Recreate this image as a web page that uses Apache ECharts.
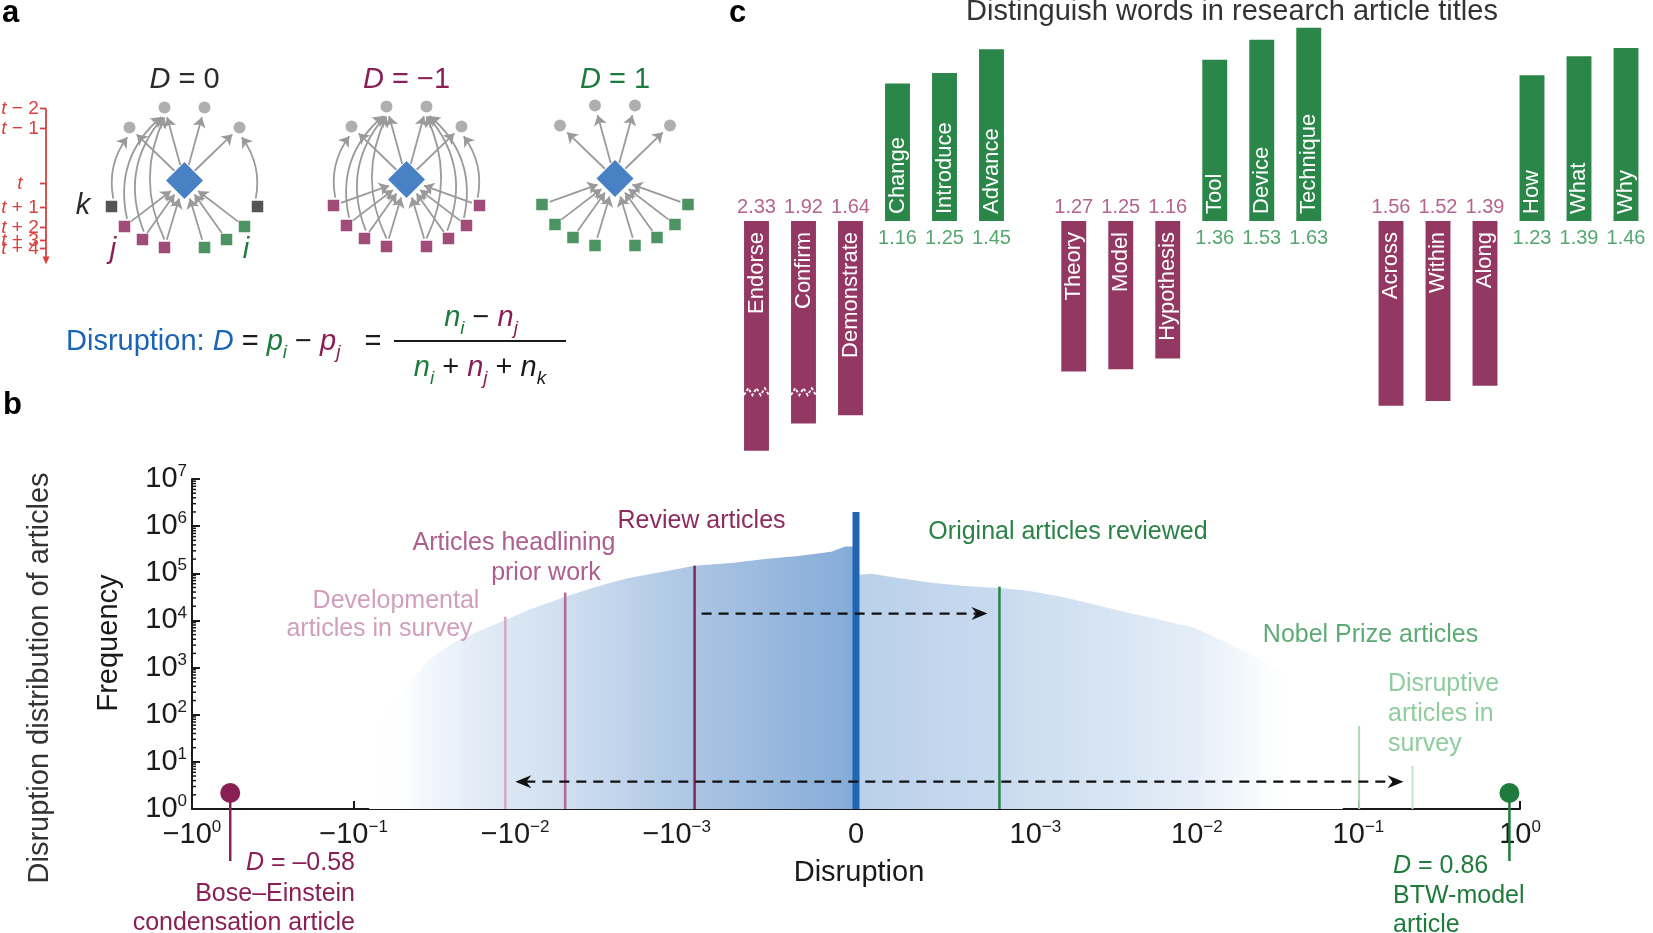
<!DOCTYPE html>
<html>
<head>
<meta charset="utf-8">
<title>Disruption</title>
<script src="https://cdn.jsdelivr.net/npm/echarts@6/dist/echarts.min.js"></script>
<style>
html,body{margin:0;padding:0;background:#ffffff;}
#chart{width:1653px;height:933px;}
</style>
</head>
<body>
<div id="chart"></div>
<script>
// ================= DATA =================
// Panel a: citation-network schematics (offsets from the focal paper, y up)
const citedNodes = [[-20, 73], [20, 73], [-55, 53], [55, 53]];
const citingNodes = [[-73, -26], [-60, -46], [-42, -59], [-20, -67], [20, -67], [42, -59], [60, -46], [73, -26]];
const citedTarget = [2, 0, 0, 0, 1, 1, 1, 3];
const diagramD = ['0', '−1', '1'];
const diagramTypes = [
  ['k', 'j', 'j', 'j', 'i', 'i', 'i', 'k'],
  ['j', 'j', 'j', 'j', 'j', 'j', 'j', 'j'],
  ['i', 'i', 'i', 'i', 'i', 'i', 'i', 'i']
];
const timeLabels = ['t − 2', 't − 1', 't', 't + 1', 't + 2', 't + 3', 't + 4'];
const timeLevels = [72, 52, -3, -27, -47, -60, -68];

// Panel b: disruption histogram (envelope)
const histNegD = [-0.08, -0.06, -0.0438, -0.0344, -0.027, -0.0215, -0.0169, -0.0115, -0.00828, -0.00489, -0.00318, -0.00199, -0.00124, -0.000902, -0.000695, -0.000506, -0.000322, -0.000138, -0.00006, -0.00001, 0];
const histNegFreq = [40, 160, 550, 1450, 2600, 4100, 5800, 10200, 16600, 31600, 51000, 79000, 107000, 145000, 166000, 200000, 234000, 288000, 372000, 372000, 372000];
const histPosD = [0, 0.00003, 0.000085, 0.000235, 0.00042, 0.000609, 0.0008, 0.00096, 0.00145, 0.00235, 0.00376, 0.00601, 0.00977, 0.0156, 0.025, 0.0406, 0.06, 0.08];
const histPosFreq = [93000, 93000, 98000, 79400, 63100, 53700, 49000, 42700, 31600, 21400, 14500, 10200, 6900, 3300, 1450, 550, 160, 40];
const zeroSpikeFreq = 2.0e6;
const markerNames = ['Developmental articles in survey', 'Articles headlining prior work', 'Review articles', 'Original articles reviewed', 'Nobel Prize articles', 'Disruptive articles in survey'];
const markerD = [-0.0115, -0.0049, -0.0009, 0.0008, 0.101, 0.216];
const markerTopFreq = [12000, 39000, 145000, 52000, 58, 8.2];
const extremeD = [-0.58, 0.86];
const extremeNames = ['Bose–Einstein condensation article', 'BTW-model article'];
const xTickD = [-1, -0.1, -0.01, -0.001, 0, 0.001, 0.01, 0.1, 1];
const yTickExp = [0, 1, 2, 3, 4, 5, 6, 7];
const shiftArrowFreq = [14000, 3.8];

// Panel c: distinguishing title words
const magentaWords = [['Endorse', 'Confirm', 'Demonstrate'], ['Theory', 'Model', 'Hypothesis'], ['Across', 'Within', 'Along']];
const magentaValues = [[2.33, 1.92, 1.64], [1.27, 1.25, 1.16], [1.56, 1.52, 1.39]];
const greenWords = [['Change', 'Introduce', 'Advance'], ['Tool', 'Device', 'Technique'], ['How', 'What', 'Why']];
const greenValues = [[1.16, 1.25, 1.45], [1.36, 1.53, 1.63], [1.23, 1.39, 1.46]];

// ================= STYLE / LAYOUT =================
const FONT = '"Liberation Sans", Arial, Helvetica, sans-serif';
const BLUE = '#1b63b5';
const MAG = '#8a1f56';
const GRN = '#1f7b3c';
const INK = '#1a1a1a';
const RED = '#d8413f';
const NODE_GRAY = '#9b9b9b';
const EDGE = '#9a9a9a';
const BAR_MAG = '#933862';
const BAR_GRN = '#2b8649';
const LBL_MAG = '#b4648f';
const LBL_GRN = '#55a770';
const markerColors = ['#d7a7c3', '#b5679a', '#8d2459', '#2a8247', '#a9d8b3', '#c0e5c8'];
const markerTextColors = ['#d19ebd', '#ad5f8f', '#8e2a5e', '#2a8247', '#5dab74', '#8fcd9f'];

const LIN = 1.11, NDEC = 3;
function toAxis(D) {
  const a = Math.abs(D);
  if (a <= 1e-3) return D / 1e-3 * LIN;
  return Math.sign(D) * (LIN + NDEC + Math.log10(a));
}
const U_MAX = toAxis(1);
const xTickU = xTickD.map(toAxis);

const diagCenters = [[184.5, 180.5], [406.5, 179.5], [615, 178.5]];
const GROUP_STRIDE = 6.75;
const BAR_W = 0.53;
const BREAK_MIN = 1.8, BREAK_AT = 1.44, BREAK_SCALE = 0.56;

const chart = echarts.init(document.getElementById('chart'), null, { renderer: 'canvas', width: 1653, height: 933 });

function supLabel(base, exp) {
  return '{b|' + base + '}{s|' + exp + '}';
}
function fmtExp(e) { return e < 0 ? '−' + (-e) : String(e); }
function xLabel(u) {
  let k = 0, best = 1e9;
  xTickU.forEach((t, i) => { if (Math.abs(t - u) < best) { best = Math.abs(t - u); k = i; } });
  const D = xTickD[k];
  if (D === 0) return '{b|0}';
  const e = Math.round(Math.log10(Math.abs(D)));
  return supLabel((D < 0 ? '−' : '') + '10', fmtExp(e));
}
const tickRich = {
  b: { fontSize: 29, fontFamily: FONT, color: INK, lineHeight: 32 },
  s: { fontSize: 17, fontFamily: FONT, color: INK, lineHeight: 17, verticalAlign: 'top' }
};

// ---------- panel a helpers ----------
function diamondEdge(dx, dy) { const L = Math.hypot(dx, dy); return 18.5 * L / (Math.abs(dx) + Math.abs(dy)); }
function trim(a, b, da, db) {
  const dx = b[0] - a[0], dy = b[1] - a[1], L = Math.hypot(dx, dy);
  return [[a[0] + dx / L * da, a[1] + dy / L * da], [b[0] - dx / L * db, b[1] - dy / L * db]];
}
const curveByIndex = [0.22, 0.3, 0.3, 0.24, 0.24, 0.3, 0.3, 0.22];
function buildEdges(types) {
  const out = [];
  citedNodes.forEach(c => {
    const r = diamondEdge(c[0], c[1]);
    out.push({ coords: trim([0, 0], c, r + 1, 10), lineStyle: { curveness: 0 } });
  });
  citingNodes.forEach((n, idx) => {
    const t = types[idx];
    if (t !== 'k') {
      const r = diamondEdge(n[0], n[1]);
      out.push({ coords: trim(n, [0, 0], 8, r + 4), lineStyle: { curveness: 0 } });
    }
    if (t !== 'i') {
      const c = citedNodes[citedTarget[idx]];
      const sgn = n[0] < 0 ? 1 : -1;
      out.push({ coords: trim(n, c, 8, 10), lineStyle: { curveness: sgn * curveByIndex[idx] } });
    }
  });
  return out;
}
const typeColor = { k: '#2b2b2b', j: MAG, i: GRN };

// ---------- grids & axes ----------
const grids = [
  { left: 192, top: 479, width: 1328, height: 330 },
  { left: 733, top: 7.7, width: 916.5, height: 450.3 }
];
diagCenters.forEach(c => grids.push({ left: c[0] - 80, top: c[1] - 80, width: 160, height: 160 }));

const xAxes = [
  {
    type: 'value', gridIndex: 0, min: -U_MAX, max: U_MAX,
    axisLine: { onZero: false, lineStyle: { color: INK, width: 2 } },
    axisTick: { inside: true, length: 8, lineStyle: { color: INK, width: 2 }, customValues: xTickU },
    axisLabel: { customValues: xTickU, formatter: xLabel, rich: tickRich, margin: 10, showMinLabel: true, showMaxLabel: true },
    splitLine: { show: false }
  },
  { type: 'value', gridIndex: 1, min: -0.5, max: 19, show: false }
];
const yTickVals = yTickExp.map(e => Math.pow(10, e));
const yAxes = [
  {
    type: 'log', logBase: 10, gridIndex: 0, min: 1, max: 1e7,
    axisLine: { onZero: false, lineStyle: { color: INK, width: 2 } },
    axisTick: { inside: true, length: 8, lineStyle: { color: INK, width: 2 }, customValues: yTickVals },
    axisLabel: {
      customValues: yTickVals, margin: 5, rich: tickRich, showMinLabel: true, showMaxLabel: true,
      formatter: v => supLabel('10', fmtExp(Math.round(Math.log10(v))))
    },
    splitLine: { show: false }
  },
  { type: 'value', gridIndex: 1, min: -2, max: 1.8, show: false }
];
for (let k = 0; k < 3; k++) {
  xAxes.push({ type: 'value', gridIndex: k + 2, min: -80, max: 80, show: false });
  yAxes.push({ type: 'value', gridIndex: k + 2, min: -80, max: 80, show: false });
}

// ---------- series ----------
const series = [];
function stopsFor(list, u0, u1) {
  return list.map(([u, c]) => ({ offset: Math.min(1, Math.max(0, (u - u0) / (u1 - u0))), color: c }));
}
const negU0 = toAxis(histNegD[0]);
const posU1 = toAxis(histPosD[histPosD.length - 1]);
series.push({
  type: 'line', xAxisIndex: 0, yAxisIndex: 0, silent: true, z: 1,
  data: histNegD.map((d, i) => [toAxis(d), histNegFreq[i]]),
  symbol: 'none', showSymbol: false, lineStyle: { width: 0, opacity: 0 },
  areaStyle: {
    origin: 'start', opacity: 1,
    color: new echarts.graphic.LinearGradient(0, 0, 1, 0, stopsFor(
      [[-3.0, '#ffffff'], [-2.8, '#fdfeff'], [-2.6, '#eff5fb'], [-2.17, '#dbe7f4'], [-1.8, '#d0dff0'], [-1.0, '#abc5e3'], [-0.07, '#87add9'], [0, '#7fa7d5']], negU0, 0))
  }
});
series.push({
  type: 'line', xAxisIndex: 0, yAxisIndex: 0, silent: true, z: 1,
  data: histPosD.map((d, i) => [toAxis(d), histPosFreq[i]]),
  symbol: 'none', showSymbol: false, lineStyle: { width: 0, opacity: 0 },
  areaStyle: {
    origin: 'start', opacity: 1,
    color: new echarts.graphic.LinearGradient(0, 0, 1, 0, stopsFor(
      [[0, '#b9d0ea'], [0.89, '#c8daee'], [1.07, '#cedef0'], [1.68, '#d9e6f4'], [2.1, '#e5eef8'], [2.4, '#f4f8fc'], [2.65, '#ffffff']], 0, posU1))
  }
});
// spike at D = 0
series.push({
  type: 'custom', xAxisIndex: 0, yAxisIndex: 0, silent: true, z: 3,
  data: [[toAxis(0), zeroSpikeFreq]],
  renderItem: (params, api) => {
    const p0 = api.coord([api.value(0), 1]);
    const p1 = api.coord([api.value(0), api.value(1)]);
    return { type: 'rect', shape: { x: p0[0] - 3.5, y: p1[1], width: 7, height: p0[1] - p1[1] }, style: { fill: '#2166b3' } };
  }
});
// minor log ticks on the frequency axis
const minorVals = [];
for (let e = 0; e < 7; e++) for (let m = 2; m <= 9; m++) minorVals.push([-U_MAX, m * Math.pow(10, e)]);
series.push({
  type: 'custom', xAxisIndex: 0, yAxisIndex: 0, silent: true, z: 3,
  data: minorVals,
  renderItem: (params, api) => {
    const p = api.coord([api.value(0), api.value(1)]);
    return { type: 'line', shape: { x1: p[0], y1: p[1], x2: p[0] + 4, y2: p[1] }, style: { stroke: INK, lineWidth: 1.5 } };
  }
});
// marker lines
series.push({
  type: 'custom', xAxisIndex: 0, yAxisIndex: 0, silent: true, z: 4,
  data: markerD.map((d, i) => [toAxis(d), markerTopFreq[i]]),
  renderItem: (params, api) => {
    const i = params.dataIndex;
    const p0 = api.coord([api.value(0), 1]);
    const p1 = api.coord([api.value(0), api.value(1)]);
    return { type: 'line', shape: { x1: p0[0], y1: p0[1], x2: p1[0], y2: p1[1] }, style: { stroke: markerColors[i], lineWidth: i >= 4 ? 2 : 2.5 } };
  }
});
// dashed shift arrows
function arrowHead(x, y, dir) {
  return { type: 'polygon', shape: { points: [[x, y], [x - dir * 16, y - 6.5], [x - dir * 11, y], [x - dir * 16, y + 6.5]] }, style: { fill: '#111' } };
}
series.push({
  type: 'custom', xAxisIndex: 0, yAxisIndex: 0, silent: true, z: 5,
  data: [[toAxis(markerD[2]), toAxis(markerD[3]), shiftArrowFreq[0], 0], [toAxis(markerD[0]), toAxis(markerD[5]), shiftArrowFreq[1], 1]],
  renderItem: (params, api) => {
    const both = api.value(3) === 1;
    const a = api.coord([api.value(0), api.value(2)]);
    const b = api.coord([api.value(1), api.value(2)]);
    const xs = a[0] + (both ? 10 : 7), xe = b[0] - (both ? 9 : 12);
    const children = [
      { type: 'line', shape: { x1: both ? xs + 10 : xs, y1: a[1], x2: xe - 10, y2: a[1] }, style: { stroke: '#111', lineWidth: 2.2, lineDash: [10, 7] } },
      arrowHead(xe, a[1], 1)
    ];
    if (both) children.push(arrowHead(xs, a[1], -1));
    return { type: 'group', children };
  }
});
// extreme articles (lollipops)
series.push({
  type: 'custom', xAxisIndex: 0, yAxisIndex: 0, silent: true, z: 5,
  data: extremeD.map(d => [toAxis(d), 1]),
  renderItem: (params, api) => {
    const p = api.coord([api.value(0), api.value(1)]);
    const col = params.dataIndex === 0 ? MAG : GRN;
    return {
      type: 'group', children: [
        { type: 'line', shape: { x1: p[0], y1: p[1] - 16, x2: p[0], y2: p[1] + 52 }, style: { stroke: col, lineWidth: 2.5 } },
        { type: 'circle', shape: { cx: p[0], cy: p[1] - 16, r: 10 }, style: { fill: col } }
      ]
    };
  }
});

// panel c bars
const barItems = [];
for (let g = 0; g < 3; g++) {
  for (let i = 0; i < 3; i++) barItems.push({ pos: g * GROUP_STRIDE + i, value: magentaValues[g][i], dir: -1, word: magentaWords[g][i] });
  for (let i = 0; i < 3; i++) barItems.push({ pos: g * GROUP_STRIDE + 3 + i, value: greenValues[g][i], dir: 1, word: greenWords[g][i] });
}
series.push({
  type: 'custom', xAxisIndex: 1, yAxisIndex: 1, silent: true, z: 3,
  data: barItems.map(b => [b.pos, b.dir * b.value]),
  renderItem: (params, api) => {
    const it = barItems[params.dataIndex];
    const broken = it.value > BREAK_MIN;
    const drawn = broken ? BREAK_AT + (it.value - BREAK_AT) * BREAK_SCALE : it.value;
    const base = api.coord([it.pos, 0]);
    const end = api.coord([it.pos, it.dir * drawn]);
    const w = api.size([BAR_W, 0])[0];
    const up = it.dir > 0;
    const children = [
      { type: 'rect', shape: { x: base[0] - w / 2, y: Math.min(base[1], end[1]), width: w, height: Math.abs(end[1] - base[1]) }, style: { fill: up ? BAR_GRN : BAR_MAG } },
      { type: 'text', x: base[0], y: up ? base[1] - 7 : base[1] + 11, rotation: Math.PI / 2,
        style: { text: it.word, fill: '#ffffff', fontSize: 22, fontFamily: FONT, align: up ? 'left' : 'right', verticalAlign: 'middle' } },
      { type: 'text', x: base[0], y: up ? base[1] + 17 : base[1] - 14,
        style: { text: it.value.toFixed(2), fill: up ? LBL_GRN : LBL_MAG, fontSize: 20, fontFamily: FONT, align: 'center', verticalAlign: 'middle' } }
    ];
    if (broken) {
      const yb = api.coord([it.pos, -BREAK_AT])[1];
      const x0 = base[0] - w / 2, pts = [];
      for (let s = 0; s <= 6; s++) pts.push([x0 + s * w / 6, yb + (s % 2 === 0 ? 3.5 : -3.5)]);
      children.push({ type: 'polyline', shape: { points: pts }, style: { stroke: '#ffffff', lineWidth: 1.8, fill: null, lineDash: [3, 2] } });
    }
    return { type: 'group', children };
  }
});

// panel a diagrams
for (let k = 0; k < 3; k++) {
  const types = diagramTypes[k];
  series.push({
    type: 'lines', coordinateSystem: 'cartesian2d', xAxisIndex: k + 2, yAxisIndex: k + 2, silent: true, z: 4,
    symbol: ['none', 'arrow'], symbolSize: 10, lineStyle: { color: EDGE, width: 1.8, opacity: 1 },
    data: buildEdges(types)
  });
  series.push({
    type: 'scatter', xAxisIndex: k + 2, yAxisIndex: k + 2, silent: true, z: 5,
    data: citedNodes, symbol: 'circle', symbolSize: 12, itemStyle: { color: NODE_GRAY }
  });
  series.push({
    type: 'scatter', xAxisIndex: k + 2, yAxisIndex: k + 2, silent: true, z: 5,
    data: citingNodes.map((n, i) => ({ value: n, itemStyle: { color: typeColor[types[i]] } })), symbol: 'rect', symbolSize: 11.5
  });
  series.push({
    type: 'scatter', xAxisIndex: k + 2, yAxisIndex: k + 2, silent: true, z: 5,
    data: [[0, 0]], symbol: 'diamond', symbolSize: 37, itemStyle: { color: BLUE }
  });
}
// time axis beside the first diagram
const TIME_X = 46;
series.push({
  type: 'custom', xAxisIndex: 2, yAxisIndex: 2, silent: true, z: 5,
  data: timeLevels.map(l => [0, l]),
  renderItem: (params, api) => {
    const i = params.dataIndex;
    const p = api.coord([0, api.value(1)]);
    const lab = timeLabels[i];
    const children = [
      { type: 'line', shape: { x1: TIME_X - 6, y1: p[1], x2: TIME_X, y2: p[1] }, style: { stroke: RED, lineWidth: 1.8 } },
      { type: 'text', x: 20, y: p[1], style: {
        text: '{i|t}{n|' + lab.slice(1) + '}', align: 'center', verticalAlign: 'middle',
        rich: { i: { fontSize: 19, fontStyle: 'italic', fontFamily: FONT, fill: RED }, n: { fontSize: 19, fontFamily: FONT, fill: RED } } } }
    ];
    if (i === 0) {
      const pb = api.coord([0, timeLevels[timeLevels.length - 1]]);
      children.push({ type: 'line', shape: { x1: TIME_X, y1: p[1], x2: TIME_X, y2: pb[1] + 10 }, style: { stroke: RED, lineWidth: 1.8 } });
      children.push({ type: 'polygon', shape: { points: [[TIME_X, pb[1] + 16], [TIME_X - 3.5, pb[1] + 8], [TIME_X + 3.5, pb[1] + 8]] }, style: { fill: RED } });
    }
    return { type: 'group', children };
  }
});

// ---------- graphic text ----------
function txt(x, y, text, opt, rotation) {
  return { type: 'text', x, y, z: 20, silent: true, rotation: rotation || 0,
    style: Object.assign({ text, fontFamily: FONT, fontSize: 25, fill: INK, align: 'center', verticalAlign: 'middle' }, opt || {}) };
}
function rt(x, y, text, rich, opt) {
  return txt(x, y, text, Object.assign({ rich }, opt || {}));
}
function rs(size, col, italic, sub) {
  const s = { fontSize: size, fontFamily: FONT, fill: col, fontStyle: italic ? 'italic' : 'normal' };
  if (sub) { s.lineHeight = size; s.verticalAlign = 'bottom'; } else { s.lineHeight = 40; }
  return s;
}
const graphics = [];
// panel letters
graphics.push(txt(2, 13.5, 'a', { fontSize: 31, fontWeight: 'bold', fill: '#000', align: 'left' }));
graphics.push(txt(3, 405, 'b', { fontSize: 31, fontWeight: 'bold', fill: '#000', align: 'left' }));
graphics.push(txt(729, 13.5, 'c', { fontSize: 31, fontWeight: 'bold', fill: '#000', align: 'left' }));
// diagram titles
const dColors = ['#2b2b2b', MAG, GRN];
diagCenters.forEach((c, k) => {
  graphics.push(rt(c[0], 79.5, '{i|D}{n| = ' + diagramD[k] + '}', { i: rs(29, dColors[k], true), n: rs(29, dColors[k], false) }));
});
graphics.push(txt(83, 206, 'k', { fontSize: 29, fontStyle: 'italic', fill: '#2b2b2b' }));
graphics.push(txt(113, 250, 'j', { fontSize: 29, fontStyle: 'italic', fill: MAG }));
graphics.push(txt(246, 250, 'i', { fontSize: 29, fontStyle: 'italic', fill: GRN }));
// formula
const fRich = {
  b: rs(29, BLUE, false), bi: rs(29, BLUE, true), k: rs(29, INK, false),
  ki: rs(29, INK, true), ks: rs(19, INK, true, true),
  gi: rs(29, GRN, true), gs: rs(19, GRN, true, true),
  mi: rs(29, MAG, true), ms: rs(19, MAG, true, true)
};
graphics.push(rt(66, 342, '{b|Disruption: }{bi|D}{k| = }{gi|p}{gs|i}{k| − }{mi|p}{ms|j}{k|   =}', fRich, { align: 'left' }));
graphics.push({ type: 'line', z: 20, silent: true, shape: { x1: 394, y1: 341, x2: 566, y2: 341 }, style: { stroke: INK, lineWidth: 2 } });
graphics.push(rt(481, 318, '{gi|n}{gs|i}{k| − }{mi|n}{ms|j}', fRich));
graphics.push(rt(480, 368, '{gi|n}{gs|i}{k| + }{mi|n}{ms|j}{k| + }{ki|n}{ks|k}', fRich));
// panel c title
graphics.push(txt(1232, 12, 'Distinguish words in research article titles', { fontSize: 29, fill: '#333' }));
// panel b axis titles
graphics.push(txt(39.5, 678, 'Disruption distribution of articles', { fontSize: 29, fill: '#333' }, Math.PI / 2));
graphics.push(txt(109, 643, 'Frequency', { fontSize: 29, fill: INK }, Math.PI / 2));
graphics.push(txt(859, 873, 'Disruption', { fontSize: 29, fill: INK }));
// panel b annotations
graphics.push(txt(396, 601, 'Developmental', { fill: markerTextColors[0] }));
graphics.push(txt(379.5, 629, 'articles in survey', { fill: markerTextColors[0] }));
graphics.push(txt(514, 543.5, 'Articles headlining', { fill: markerTextColors[1] }));
graphics.push(txt(546, 573.5, 'prior work', { fill: markerTextColors[1] }));
graphics.push(txt(701.5, 521, markerNames[2], { fill: markerTextColors[2] }));
graphics.push(txt(1068, 532.5, markerNames[3], { fill: markerTextColors[3] }));
graphics.push(txt(1370.5, 635, markerNames[4], { fill: markerTextColors[4] }));
graphics.push(txt(1388, 684.5, 'Disruptive', { fill: markerTextColors[5], align: 'left' }));
graphics.push(txt(1388, 714.5, 'articles in', { fill: markerTextColors[5], align: 'left' }));
graphics.push(txt(1388, 744.5, 'survey', { fill: markerTextColors[5], align: 'left' }));
const dRich = (col) => ({ i: rs(25, col, true), n: rs(25, col, false) });
graphics.push(rt(355, 863.5, '{i|D}{n| = ' + String(extremeD[0]).replace('-', '–') + '}', dRich(MAG), { align: 'right' }));
graphics.push(txt(355, 894, 'Bose–Einstein', { fill: MAG, align: 'right' }));
graphics.push(txt(355, 923.5, 'condensation article', { fill: MAG, align: 'right' }));
graphics.push(rt(1393, 866.5, '{i|D}{n| = ' + extremeD[1] + '}', dRich(GRN), { align: 'left' }));
graphics.push(txt(1393, 896.5, 'BTW-model', { fill: GRN, align: 'left' }));
graphics.push(txt(1393, 925, 'article', { fill: GRN, align: 'left' }));

chart.setOption({
  animation: false,
  backgroundColor: '#ffffff',
  textStyle: { fontFamily: FONT },
  grid: grids,
  xAxis: xAxes,
  yAxis: yAxes,
  series: series,
  graphic: graphics
});
</script>
</body>
</html>
